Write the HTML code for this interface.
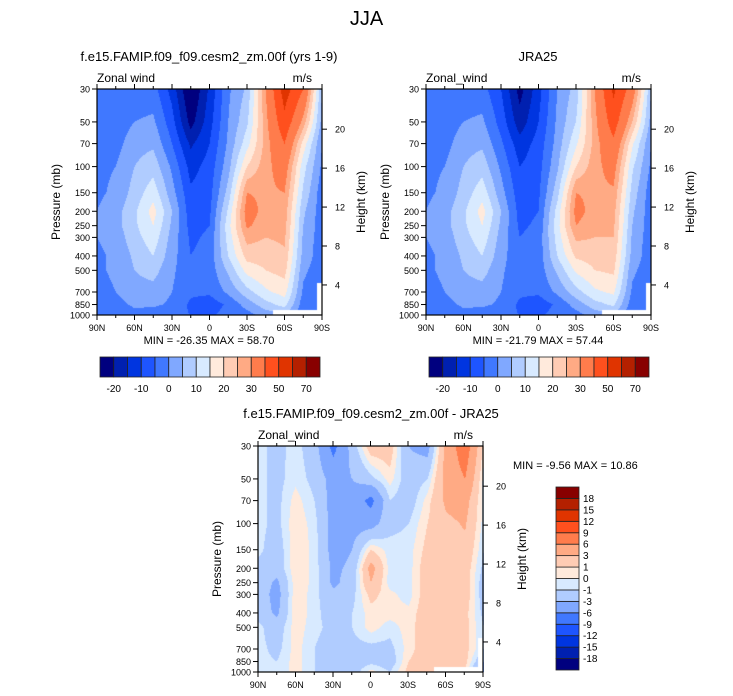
<!DOCTYPE html>
<html><head><meta charset="utf-8">
<style>
body{margin:0;background:#fff;width:733px;height:696px;overflow:hidden;position:relative;font-family:"Liberation Sans",sans-serif;}
.t{position:absolute;white-space:nowrap;color:#000;}
canvas{position:absolute;}
svg{position:absolute;left:0;top:0;}
</style></head>
<body>
<div class="t" style="left:0;width:733px;text-align:center;top:8px;font-size:20px;">JJA</div>
<canvas id="c1" width="225" height="226" style="left:97px;top:89px"></canvas>
<canvas id="c2" width="225" height="226" style="left:426px;top:89px"></canvas>
<canvas id="c3" width="226" height="226" style="left:258px;top:446px"></canvas>
<svg id="ov" width="733" height="696"></svg>
<script>
const lats=["90N","75N","60N","45N","30N","15N","0","15S","30S","45S","60S","75S","90S"];
const levs=[30,50,70,100,150,200,250,300,400,500,700,850,1000];
const pLabels=[30,50,70,100,150,200,250,300,400,500,700,850,1000];
const kmLabels=[4,8,12,16,20];
const latLabels=["90N","60N","30N","0","30S","60S","90S"];
const palette=["#00007f","#0020b0","#0035e0","#1e55ff","#4078ff","#80a8ff","#b0ccff","#d8eaff","#ffeadc","#ffccb4","#ffaa84","#ff7c4c","#ff501e","#e03400","#b42000","#880000"];
const levelsAbs=[-20,-15,-10,-5,0,5,10,15,20,25,30,40,50,60,70];
const levelsDiff=[-18,-15,-12,-9,-6,-3,-1,0,1,3,6,9,12,15,18];
const modelU=[
[-4,-4,-3,-1,-1,0,0,0,-1,-1,-2,-3,-4],
[-3,-3,-2,0,1,3,3,2,1,1,0,-2,-4],
[-3,0,3,5,7,9,9,8,6,5,3,1,-2],
[-3,1,4,8,13,17,15,13,10,7,3,1,-3],
[-12,-8,-5,-1,2,5,4,3,2,1,0,-1,-4],
[-26,-22,-16,-12,-9,-8,-7,-6,-5,-4,-4,-6,-5],
[-14,-12,-10,-8,-7,-6,-5,-4,-3,-3,-4,-8,-6],
[-1,0,1,3,7,11,13,12,10,6,1,-4,-3],
[6,9,13,20,30,33,31,27,22,17,8,2,-2],
[30,28,27,28,29,28,27,25,22,20,14,8,2],
[55,47,40,34,30,28,27,26,24,22,17,12,4],
[40,28,18,12,9,6,5,4,3,1,-1,-3,-4],
[5,3,0,-1,-3,-3,-3,-3,-3,-3,-3,-4,-6]];
const jraU=[
[-4,-4,-3,-1,-1,0,0,0,-1,-1,-2,-3,-4],
[-3,-3,-2,0,1,3,3,2,1,1,0,-2,-4],
[-3,0,3,5,7,9,9,8,6,5,3,1,-2],
[-3,1,4,8,13,17,15,13,10,7,3,1,-3],
[-10,-7,-4,-1,2,5,4,3,2,1,0,-1,-4],
[-22,-18,-13,-10,-8,-7,-6,-5,-4,-4,-4,-6,-5],
[-12,-10,-8,-7,-6,-5,-4,-3,-3,-3,-4,-8,-6],
[0,1,2,4,8,12,13,12,10,6,1,-4,-3],
[7,10,14,20,30,32,30,26,21,16,8,2,-2],
[30,28,27,28,29,28,27,25,22,20,14,8,2],
[52,45,38,33,29,27,26,25,23,21,16,11,4],
[35,25,16,11,8,6,5,4,3,1,-1,-3,-4],
[5,3,0,-1,-3,-3,-3,-3,-3,-3,-3,-4,-6]];
const diffU=[
[-0.5,-0.5,-0.5,-0.5,-0.6,-1.5,-1.5,-1.5,-1.5,-0.6,-0.5,-0.5,-0.5],
[-1.5,-1.5,-1.5,-1.5,-2,-2,-3.5,-4,-3.5,-2,-1.5,-1,-1],
[-0.5,-0.3,0.5,0.8,0.8,0.8,0.7,0.8,0.8,0.6,0.5,0.5,0.5],
[-2,-1.5,-1,-0.5,-0.3,-0.3,-0.3,-0.5,-0.5,-0.6,-1,-1,-1],
[-7,-4,-4,-4,-4,-3.5,-3.5,-2.5,-2,-1.5,-2,-1.5,-2],
[-2,-3,-4,-4,-3,-2.5,-2,-1.5,-1,-1,-1.5,-2,-2],
[2,-1.5,-7,-4,1,4,3,1.5,0.5,0.5,-1.5,-1.5,0.5],
[2,0.5,-1,-1.5,-0.5,-0.5,-0.5,0.3,0.5,-0.5,-1.5,-2,-1],
[-3,-2,-2,-1,-0.5,-0.5,-0.5,-0.5,0.3,0.5,0.5,1,1.5],
[-4,-1,0.5,1,1.5,2,2,2,2,2,2,2,2],
[4,4,3.5,2.5,2,2,2,2,2,2,2.5,2,1.5],
[8,6,4,3.2,2.5,2,2,2,1.5,1.5,1.5,1.5,1],
[0.5,-0.5,-0.5,-0.5,-1,-1.5,-2,-2,-1.5,-1,-1,-3,-6]];

const L30=Math.log(30),L1000=Math.log(1000);
function yOf(p,top){return top+(Math.log(p)-L30)/(L1000-L30)*226;}
function colorFor(v,lv){let i=0;while(i<lv.length&&v>=lv[i])i++;return palette[i];}
function drawField(id,data,lv,masks){
  const c=document.getElementById(id),ctx=c.getContext('2d'),W=c.width,H=c.height;
  const lp=levs.map(p=>(Math.log(p)-L30)/(L1000-L30));
  for(let py=0;py<H;py++){
    const f=(py+0.5)/H;let k=0;while(k<lp.length-2&&f>lp[k+1])k++;
    const ty=Math.min(1,Math.max(0,(f-lp[k])/(lp[k+1]-lp[k])));
    for(let px=0;px<W;px++){
      const g=(px+0.5)/W*(lats.length-1);let j=Math.min(lats.length-2,Math.floor(g));const tx=g-j;
      const v=(data[j][k]*(1-tx)+data[j+1][k]*tx)*(1-ty)+(data[j][k+1]*(1-tx)+data[j+1][k+1]*tx)*ty;
      ctx.fillStyle=colorFor(v,lv);ctx.fillRect(px,py,1,1);
    }
  }
  ctx.fillStyle="#fff";masks.forEach(m=>ctx.fillRect(m[0],m[1],m[2],m[3]));
}
drawField('c1',modelU,levelsAbs,[[176,221,44,5],[220,194,5,32]]);
drawField('c2',jraU,levelsAbs,[[176,221,44,5],[220,194,5,32]]);
drawField('c3',diffU,levelsDiff,[[176,221,44,5],[220,192,5,34]]);

const ov=document.getElementById('ov');const NS="http://www.w3.org/2000/svg";
function el(tag,attrs,txt){const e=document.createElementNS(NS,tag);for(const k in attrs)e.setAttribute(k,attrs[k]);if(txt!==undefined)e.textContent=txt;ov.appendChild(e);return e;}
function kmToP(z){return 1148*Math.exp(-z/6.62);}
function axes(x0,top,name,title,tcx){
  const W=225,bot=top+226;
  let r=el('rect',{x:x0,y:top,width:W,height:226,fill:'none',stroke:'#000','stroke-width':1.2});
  
  pLabels.forEach(p=>{const y=yOf(p,top);el('line',{x1:x0-5,y1:y,x2:x0,y2:y,stroke:'#000'});
    let t=el('text',{x:x0-7,y:y+3.5,'font-size':9,'text-anchor':'end'},String(p));
    });
  kmLabels.forEach(z=>{const y=yOf(kmToP(z),top);el('line',{x1:x0+W,y1:y,x2:x0+W+5,y2:y,stroke:'#000'});
    let t=el('text',{x:x0+W+13,y:y+3.5,'font-size':9},String(z));
    });
  for(let i=0;i<=12;i++){const x=x0+i*W/12,len=i%2==0?5:3;
    el('line',{x1:x,y1:bot,x2:x,y2:bot+len,stroke:'#000'});el('line',{x1:x,y1:top,x2:x,y2:top-len,stroke:'#000'});}
  latLabels.forEach((l,i)=>{let t=el('text',{x:x0+i*W/6,y:bot+16,'font-size':9,'text-anchor':'middle'},l);
    });
  let a=el('text',{x:0,y:0,'font-size':12,'text-anchor':'middle',transform:`translate(${x0-37},${top+113}) rotate(-90)`},'Pressure (mb)');
  
  let b=el('text',{x:0,y:0,'font-size':12,'text-anchor':'middle',transform:`translate(${x0+W+43},${top+113}) rotate(-90)`},'Height (km)');
  
  let c=el('text',{x:x0,y:top-7,'font-size':12},name==='model'?'Zonal wind':'Zonal_wind');
  
  let d=el('text',{x:x0+W-10,y:top-7,'font-size':12,'text-anchor':'end'},'m/s');
  
  let e=el('text',{x:tcx,y:top-28,'font-size':13,'text-anchor':'middle'},title);
  
}
axes(97,89,'model','f.e15.FAMIP.f09_f09.cesm2_zm.00f (yrs 1-9)',209);
axes(426,89,'jra','JRA25',538);
axes(258,446,'diff','f.e15.FAMIP.f09_f09.cesm2_zm.00f - JRA25',371);
let m1=el('text',{x:209,y:344,'font-size':11,'text-anchor':'middle'},'MIN = -26.35  MAX = 58.70');

let m2=el('text',{x:538,y:344,'font-size':11,'text-anchor':'middle'},'MIN = -21.79  MAX = 57.44');

let m3=el('text',{x:513,y:469,'font-size':11},'MIN =  -9.56  MAX = 10.86');

const hLabels=["-20","-10","0","10","20","30","50","70"];
function hbar(x0,name){const w=220/16;
  palette.forEach((col,i)=>{let r=el('rect',{x:x0+i*w,y:357,width:w,height:20,fill:col,stroke:'#222','stroke-width':0.8});
    });
  hLabels.forEach((l,i)=>{let t=el('text',{x:x0+(2*i+1)*w,y:392,'font-size':10,'text-anchor':'middle'},l);
    });}
hbar(100,'model');hbar(429,'jra');
const vLabels=levelsDiff.map(String);
(function(){const h=183/16;
  palette.forEach((col,i)=>{let r=el('rect',{x:556,y:670-(i+1)*h,width:23,height:h,fill:col,stroke:'#222','stroke-width':0.8});
    });
  vLabels.forEach((l,i)=>{let t=el('text',{x:583,y:670-(i+1)*h+3.5,'font-size':10},l);
    });})();
</script>
</body></html>
